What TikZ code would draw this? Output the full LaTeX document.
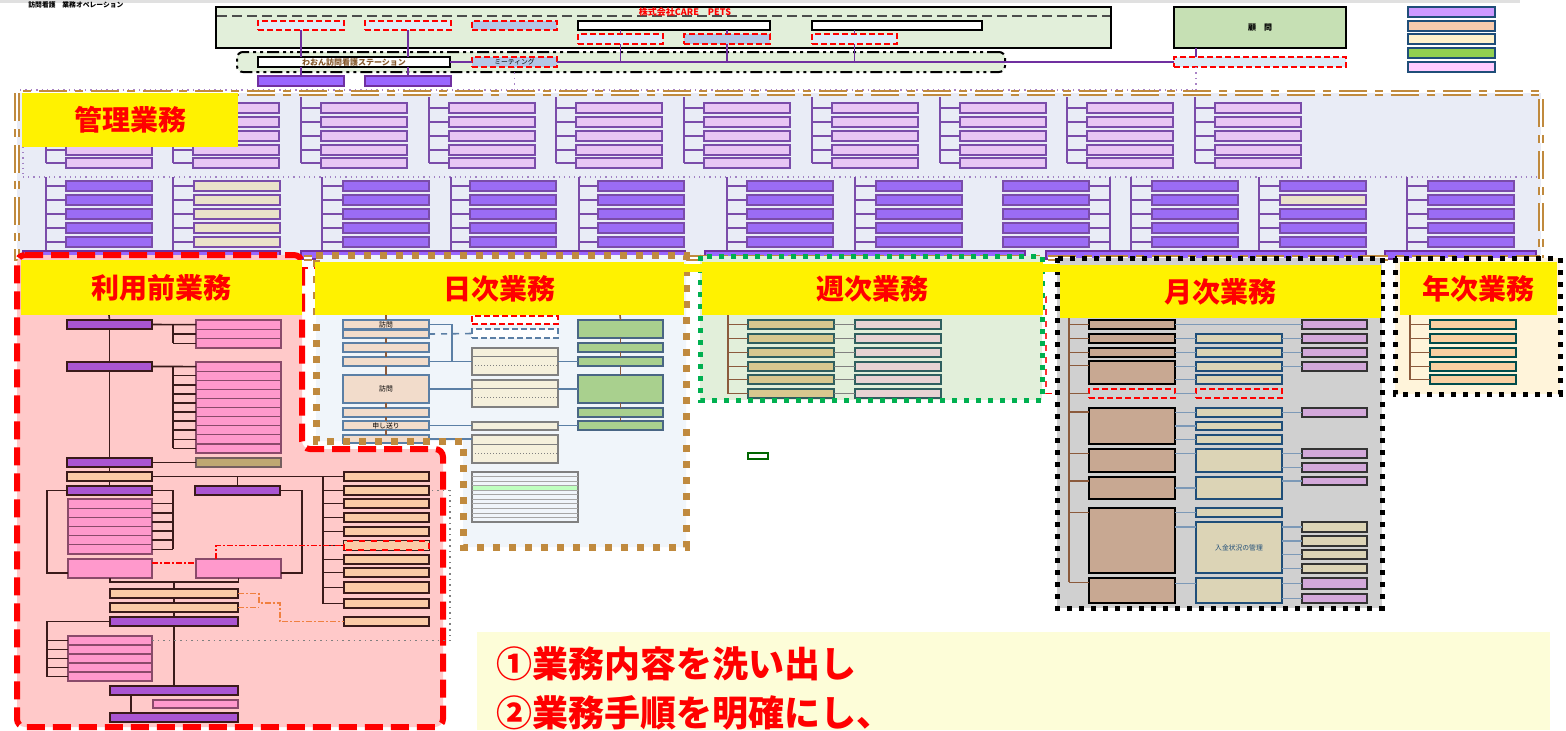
\documentclass[tikz,border=0pt]{standalone}
\usepackage{fontspec}
\newfontfamily\cjk{Noto Sans CJK JP}
\usetikzlibrary{calc}
\definecolor{brn}{HTML}{C08A3E}
\definecolor{kbg}{HTML}{E9ECF6}
\definecolor{upf}{HTML}{E8C6F4}
\definecolor{upl}{HTML}{7A4CAA}
\definecolor{lof}{HTML}{9B6CF5}
\definecolor{bei}{HTML}{EAE2CA}
\definecolor{rbg}{HTML}{FFC9C9}
\definecolor{dbg}{HTML}{F0F5FA}
\definecolor{wbg}{HTML}{E2EFDA}
\definecolor{mbg}{HTML}{D0D0D0}
\definecolor{ybg}{HTML}{FFF4DA}
\definecolor{lbl}{HTML}{DDEBF7}
\definecolor{mbl}{HTML}{B4C7E7}
\definecolor{pur}{HTML}{7030A0}
\definecolor{vio}{HTML}{9966FF}
\definecolor{rpu}{HTML}{AA55D2}
\definecolor{rpk}{HTML}{FF99CC}
\definecolor{pk2}{HTML}{8A4A6A}
\definecolor{rpe}{HTML}{FBCBA6}
\definecolor{khk}{HTML}{BFA872}
\definecolor{dkb}{HTML}{3A1A1A}
\definecolor{bgy}{HTML}{5B7FA5}
\definecolor{dpe}{HTML}{F2DCCB}
\definecolor{dbe}{HTML}{F5F0DC}
\definecolor{dgr}{HTML}{A9D08E}
\definecolor{wkh}{HTML}{D8C88F}
\definecolor{wpk}{HTML}{E8D3D3}
\definecolor{wtl}{HTML}{2F5F5F}
\definecolor{mlf}{HTML}{C8A892}
\definecolor{mmf}{HTML}{DCD4B6}
\definecolor{mrf}{HTML}{D3A8DA}
\definecolor{nav}{HTML}{1F4E79}
\definecolor{yfa}{HTML}{FAD0A2}
\definecolor{gtxt}{HTML}{FDFDD8}
\definecolor{bro}{HTML}{8B5A3C}
\definecolor{kg}{HTML}{C6E0B4}
\definecolor{grd}{HTML}{00B050}
\definecolor{orn}{HTML}{F08040}
\definecolor{lg1}{HTML}{CC99FF}
\definecolor{lg2}{HTML}{F8CBAD}
\definecolor{lg3}{HTML}{FFF2CC}
\definecolor{lg4}{HTML}{92D050}
\definecolor{lg5}{HTML}{FFCCFF}
\newcommand\mytiny{\cjk\fontsize{3.4}{3.6}\selectfont}
\newcommand\rbx[7]{%
  \pgfmathsetmacro\bxw{abs((#4)-(#2))*0.5}%
  \pgfmathsetmacro\bxh{abs((#5)-(#3))*0.5}%
  \node[box base,minimum width=\bxw pt,minimum height=\bxh pt,#6] (#1) at ({((#2)+(#4))/2},{((#3)+(#5))/2}) {#7};%
}
\begin{document}
\begin{tikzpicture}[x=0.5pt,y=-0.5pt,
  box base/.style={inner sep=0pt,outer sep=0pt,font=\mytiny,align=center},
  ubox/.style={draw=upl,line width=0.9pt,fill=upf},
  lbox/.style={draw=upl,line width=0.9pt},
  kline/.style={draw=upl,line width=0.8pt},
  lab/.style={fill=yellow,text=red,font=\cjk\bfseries\fontsize{14}{14}\selectfont},
  rdash/.style={draw=red,line width=0.9pt,dash pattern=on 3pt off 1.5pt},
  blk/.style={draw=black,line width=1.1pt},
  pl/.style={draw=pur,line width=0.8pt},
  pd/.style={draw=pur!60,line width=0.7pt,dotted},
  rp/.style={draw=dkb,line width=0.9pt,fill=rpu},
  rk/.style={draw=pk2,line width=0.6pt,fill=rpk},
  re/.style={draw=dkb,line width=0.9pt,fill=rpe},
  rl/.style={draw=dkb,line width=0.8pt},
  dl/.style={draw=bgy,line width=0.9pt,fill=dpe},
  dm/.style={draw=gray,line width=0.7pt,fill=dbe},
  dg/.style={draw=bgy!80!black,line width=0.9pt,fill=dgr},
  bl/.style={draw=bgy,line width=0.8pt},
  bc/.style={draw=bro,line width=0.8pt},
  mlb/.style={draw=black,line width=1.1pt,fill=mlf},
  mmb/.style={draw=nav,line width=1pt,fill=mmf},
  mrb/.style={draw=black!80,line width=1pt,fill=mrf},
  mc/.style={draw=bgy!80,line width=0.7pt}]
\useasboundingbox (0,0) rectangle (1566,730);
\fill[white] (0,0) rectangle (1566,730);
% ---------- top ----------
\fill[black!12] (0,0) rectangle (1520,3);
\node[anchor=west,inner sep=0pt,font=\cjk\bfseries\fontsize{3.4}{4}\selectfont] (ttl) at (28,5) {訪問看護　業務オペレーション};
\rbx{co}{216}{7}{1111}{48}{blk,fill=wbg}{}
\draw[black!70,line width=1.2pt,dash pattern=on 5pt off 2.5pt] (217,16) -- (1110,16);
\node[inner sep=0pt,font=\cjk\bfseries\fontsize{4.5}{5}\selectfont,text=red] (cot) at (685,12) {株式会社CARE　PETS};
\rbx{c1}{258}{21}{344}{30}{rdash,fill=lbl}{}
\rbx{c2}{365}{21}{451}{30}{rdash,fill=lbl}{}
\rbx{c3}{472}{21}{557}{30}{rdash,fill=mbl}{}
\rbx{c4}{578}{21}{770}{30}{blk,fill=white}{}
\rbx{c5}{578}{34}{663}{44}{rdash,fill=lbl}{}
\rbx{c6}{684}{34}{770}{44}{rdash,fill=mbl}{}
\rbx{c7}{812}{21}{982}{30}{blk,fill=white}{}
\rbx{c8}{812}{34}{897}{44}{rdash,fill=lbl}{}
\rbx{st}{237}{52}{1005}{72}{draw=black,line width=1pt,fill=wbg,dash pattern=on 6pt off 2pt on 1.5pt off 2pt on 1.5pt off 2pt,rounded corners=3pt}{}
\rbx{s1}{258}{57}{450}{67}{blk,fill=white,text=brown!70!black,font=\cjk\bfseries\fontsize{4}{4}\selectfont}{わおん訪問看護ステーション}
\rbx{s2}{472}{57}{557}{67}{rdash,fill=mbl}{ミーティング}
\rbx{p1}{258}{76}{344}{86}{draw=pur,line width=0.9pt,fill=vio}{}
\rbx{p2}{365}{76}{451}{86}{draw=pur,line width=0.9pt,fill=vio}{}
\rbx{k1}{1174}{7}{1346}{48}{blk,fill=kg,font=\cjk\bfseries\fontsize{4}{4}\selectfont}{顧　問}
\rbx{k2}{1174}{57}{1346}{67}{rdash,fill=lbl}{}
\foreach \yy [count=\i] in {7,21,34,48,62}{
  \rbx{lg\i}{1408}{\yy}{1495}{\yy+10}{draw=nav,line width=1.2pt,fill=lg\i}{}
}
\draw[pl] (c1.south) -- (c1.south |- s1.north);
\draw[pl] (c1.south |- s1.south) -- (p1.north);
\draw[pl] (c2.south) -- (c2.south |- s1.north);
\draw[pl] (c2.south |- s1.south) -- (p2.north);
\draw[pl] (s1.east) -- (s2.west);
\draw[pl] (s2.east) -- (k2.west);
\draw[pl] (c4.south -| c5.north) -- (c5.north);
\draw[pl] (c5.south) -- (c5.south |- s2.east);
\draw[pl] (c4.south -| c6.north) -- (c6.north);
\draw[pl] (c6.south) -- (c6.south |- s2.east);
\draw[pl] (c7.south -| c8.north) -- (c8.north);
\draw[pl] (c8.south) -- (c8.south |- s2.east);
\draw[pl] ($(k1.south west)+(22,0)$) -- ($(k2.north west)+(22,0)$);
\draw[pd] (s2.south) -- (s2.south |- 0,90);
\draw[pd] ($(k2.south west)+(22,0)$) -- (1196,90);
\draw[pd] (20,90) -- (1196,90);
% ---------- kanri ----------
\fill[kbg] (17,93) rectangle (1541,258);
\draw[upl!70,dotted,line width=0.6pt] (23,177) -- (1538,177);
\draw[upl!70,dotted,line width=0.6pt] (23,95) -- (23,177);
\foreach \cx [count=\ci] in {46,173,301,429,556,684,812,940,1067,1195}{
  \draw[kline] (\cx,97) -- (\cx,163);
  \foreach \ry [count=\ri] in {103,117,131,145,158}{
    \rbx{u\ci-\ri}{\cx+20}{\ry}{\cx+106}{\ry+10}{ubox}{}
    \draw[kline] (\cx,\ry+5) -- (u\ci-\ri);
  }
}
\foreach \lx/\bs/\fc [count=\ci] in {46/66/lof,173/194/bei,322/343/lof,451/470/lof,579/598/lof,727/747/lof,855/876/lof,1110/1003/lof,1131/1152/lof,1259/1280/lof,1407/1428/lof}{
  \draw[kline] (\lx,177) -- (\lx,251);
  \foreach \ry [count=\ri] in {181,195,209,223,237}{
    \rbx{l\ci-\ri}{\bs}{\ry}{\bs+86}{\ry+10}{lbox,fill=\fc}{}
    \draw[kline] (\lx,\ry+5) -- (l\ci-\ri);
  }
}
\rbx{lx}{1280}{195}{1366}{205}{lbox,fill=bei}{}
\rbx{b1}{23}{251}{280}{259}{draw=pur,line width=0.8pt,fill=vio}{}
\rbx{b2}{301}{251}{685}{259}{draw=pur,line width=0.8pt,fill=vio}{}
\rbx{b3}{705}{251}{1025}{259}{draw=pur,line width=0.8pt,fill=vio}{}
\rbx{b4}{1046}{251}{1366}{259}{draw=pur,line width=0.8pt,fill=vio}{}
\rbx{b5}{1385}{251}{1536}{259}{draw=pur,line width=0.8pt,fill=vio}{}
\draw[brn,line width=0.8pt,double=white,double distance=1.2pt,dash pattern=on 14pt off 4pt on 4pt off 4pt] (17,93) rectangle (1541,258);
% ---------- riyoumae ----------
\draw[red,line width=3pt,dash pattern=on 9pt off 4pt,fill=rbg,rounded corners=4pt] (17,255) -- (302,255) -- (302,449) -- (443,449) -- (443,727) -- (17,727) -- cycle;
\rbx{pa1}{67}{320}{152}{329}{rp}{}
\rbx{pa2}{67}{362}{152}{371}{rp}{}
\rbx{pa3}{67}{458}{152}{467}{rp}{}
\rbx{pk1}{196}{458}{281}{467}{draw=dkb!70,line width=0.8pt,fill=khk}{}
\rbx{pe1}{67}{472}{152}{481}{re}{}
\rbx{pa4}{67}{486}{152}{495}{rp}{}
\rbx{pa5}{195}{486}{280}{495}{rp}{}
\rbx{pe2}{110}{589}{238}{598}{re}{}
\rbx{pe3}{110}{603}{238}{612}{re}{}
\rbx{pa6}{110}{617}{238}{626}{rp}{}
\rbx{pa7}{110}{686}{238}{695}{rp}{}
\rbx{pp1}{153}{700}{238}{708}{rk}{}
\rbx{pa8}{110}{713}{238}{722}{rp}{}
\foreach \i in {0,1,2}{\rbx{qa\i}{196}{320+\i*9.33}{281}{329.33+\i*9.33}{rk}{}}
\foreach \i in {0,...,9}{\rbx{qb\i}{196}{362+\i*9.1}{281}{371.1+\i*9.1}{rk}{}}
\foreach \i in {0,...,5}{\rbx{qc\i}{68}{499+\i*9.17}{152}{508.17+\i*9.17}{rk}{}}
\foreach \i in {0,...,4}{\rbx{qd\i}{68}{636+\i*9}{152}{645+\i*9}{rk}{}}
\rbx{pp2}{68}{559}{152}{578}{rk}{}
\rbx{pp3}{196}{559}{281}{578}{rk}{}
\foreach \yy/\hh [count=\i] in {472/9,486/9,499/9,513/9,527/9,541/9,555/9,568/9,582/11,599/9,617/9}{
  \rbx{rc\i}{344}{\yy}{429}{\yy+\hh}{re}{}
}
\draw[red,line width=0.9pt,dashed,fill=rpe] (rc6.south west) rectangle (rc6.north east);
\draw[rl] (109,315) -- (pa1.north);
\draw[rl] (pa1.south) -- (pa2.north);
\draw[rl] (pa2.south) -- (pa3.north);
\draw[rl] (pa3.south) -- (pe1.north);
\draw[rl] (pe1.south) -- (pa4.north);
\draw[rl] (pa1.east) -- (qa0.west);
\draw[rl] (173,0 |- pa1.east) -- (173,0 |- qa2.west);
\foreach \i in {1,2}{\draw[rl] (173,0 |- qa\i.west) -- (qa\i.west);}
\draw[rl] (pa2.east) -- (qb0.west);
\draw[rl] (173,0 |- pa2.east) -- (173,0 |- qb9.west);
\foreach \i in {1,...,9}{\draw[rl] (173,0 |- qb\i.west) -- (qb\i.west);}
\draw[rl] (pa3.east) -- (pk1.west);
\draw[rl] (pe1.east) -- (rc1.west);
\draw[rl] (323,0 |- rc1.west) -- (323,0 |- rc10.west);
\foreach \i in {2,...,10}{\draw[rl] (323,0 |- rc\i.west) -- (rc\i.west);}
\draw[rl] (pa5.north |- pe1.east) -- (pa5.north);
\draw[rl] (pa4.west) -- ++(-20,0) |- ($(pp2.west)+(0,4.5)$);
\draw[rl] (pa4.east) -- (173,0 |- pa4.east) -- (173,0 |- qc5.east);
\foreach \i in {0,...,5}{\draw[rl] (qc\i.east) -- (173,0 |- qc\i.east);}
\draw[rl] (pa5.east) -- (302,0 |- pa5.east) |- ($(pp3.east)+(0,4.5)$);
\draw[red,line width=0.8pt,dash pattern=on 3pt off 1pt on 1pt off 1pt] ($(pp2.east)+(0,-5.5)$) -- ($(pp3.west)+(0,-5.5)$);
\draw[red,line width=0.8pt,dash pattern=on 3pt off 1pt on 1pt off 1pt] (216,0 |- pp3.north) |- (rc6.west);
\draw[rl] (pp2.south) -- ++(0,4) -| (pp3.south);
\draw[rl] (pe2.north |- 0,582) -- (pe2.north);
\draw[rl] (pe2.south) -- (pe3.north);
\draw[rl] (pe3.south) -- (pa6.north);
\draw[rl] (pa6.south) -- (pa7.north);
\draw[rl] (131,0 |- pa7.south) -- (131,0 |- pa8.north);
\draw[rl] (pa6.west) -- (47,0 |- pa6.west) -- (47,0 |- qd4.west);
\foreach \i in {0,...,4}{\draw[rl] (47,0 |- qd\i.west) -- (qd\i.west);}
\draw[orn,line width=0.8pt,dash pattern=on 3pt off 1pt on 1pt off 1pt] (pe2.east) -- (259,0 |- pe2.east) -- (259,603) -- (280,603) -- (280,0 |- rc11.west) -- (rc11.west);
\draw[orn,line width=0.8pt,dash pattern=on 3pt off 1pt on 1pt off 1pt] (pe3.east) -- (259,0 |- pe3.east);
\draw[gray,dotted,line width=0.8pt] (qd0.east) -| (450,0 |- rc2.east) -- (rc2.east);
% ---------- nichiji ----------
\fill[dbg] (316,255) -- (686,255) -- (686,547) -- (463,547) -- (463,441) -- (316,441) -- cycle;
\rbx{d1}{343}{320}{429}{329}{dl}{訪問}
\rbx{d2}{343}{330}{429}{338}{dl}{}
\rbx{d3}{343}{343}{429}{352}{dl}{}
\rbx{d4}{343}{357}{429}{366}{dl}{}
\rbx{d5}{343}{375}{429}{403}{dl}{訪問}
\rbx{d6}{343}{408}{429}{417}{dl}{}
\rbx{d7}{343}{421}{429}{430}{dl}{申し送り}
\rbx{d8}{343}{435}{429}{443}{dl}{}
\rbx{m1}{472}{316}{558}{324}{rdash,fill=white}{}
\rbx{m2}{472}{329}{558}{338}{draw=bgy,line width=0.9pt,dash pattern=on 3pt off 1.5pt,fill=white}{}
\rbx{m3}{472}{348}{558}{375}{dm}{}
\rbx{m4}{472}{380}{558}{407}{dm}{}
\rbx{m5}{472}{422}{558}{430}{dm}{}
\rbx{m6}{472}{435}{558}{463}{dm}{}
\foreach \n in {m3,m4,m6}{
  \draw[gray,line width=0.5pt] ($(\n.north west)!0.33!(\n.south west)$) -- ($(\n.north east)!0.33!(\n.south east)$);
  \draw[gray,line width=0.5pt,densely dotted] ($(\n.north west)!0.66!(\n.south west)$) -- ($(\n.north east)!0.66!(\n.south east)$);
}
\rbx{g1}{578}{320}{663}{338}{dg}{}
\rbx{g2}{578}{343}{663}{352}{dg}{}
\rbx{g3}{578}{357}{663}{366}{dg}{}
\rbx{g4}{578}{375}{663}{403}{dg}{}
\rbx{g5}{578}{408}{663}{417}{dg}{}
\rbx{g6}{578}{421}{663}{430}{dg}{}
\fill[green!25] (472.5,485.6) rectangle (577.5,490.2);
\rbx{ml}{472}{472}{578}{522}{draw=gray,line width=0.6pt}{}
\foreach \i in {1,...,10}{\draw[gray!70,line width=0.4pt] (ml.north west |- 0,472+\i*4.55) -- (ml.north east |- 0,472+\i*4.55);}
\draw[bc] (386,315) -- (d1.north);
\draw[bc] (d2.south) -- (d3.north);
\draw[bc] (d3.south) -- (d4.north);
\draw[bc] (d4.south) -- (d5.north);
\draw[bc] (d5.south) -- (d6.north);
\draw[bc] (d6.south) -- (d7.north);
\draw[bc] (d7.south) -- (d8.north);
\draw[bc] (620,315) -- (g1.north);
\draw[bc] (g1.south) -- (g2.north);
\draw[bc] (g2.south) -- (g3.north);
\draw[bc] (g3.south) -- (g4.north);
\draw[bc] (g4.south) -- (g5.north);
\draw[bc] (g5.south) -- (g6.north);
\draw[bl,dashed] (d2.east) -- (m2.west);
\draw[bl] (d1.east) -- (452,0 |- d1.east) -- (452,0 |- m3.west);
\draw[bl] (d4.east) -- (m3.west);
\draw[bl] (m3.east) -- (g3.west);
\draw[bl] (d5.east) -- (m4.west |- d5.east);
\draw[bl] (m4.east |- g4.west) -- (g4.west);
\draw[bl] (d7.east) -- (m5.west |- d7.east);
\draw[bl] (m5.east |- g6.west) -- (g6.west);
\draw[bl] (d8.east) -- (m6.west |- d8.east);
\draw[brn,line width=3.5pt,dash pattern=on 3.5pt off 4.5pt] (316,255) -- (686,255) -- (686,547) -- (463,547) -- (463,441) -- (316,441) -- cycle;
% ---------- shuuji ----------
\fill[wbg] (700,256) rectangle (1042,400);
\draw[bc] (728,315) -- (728,393.5);
\foreach \yy [count=\i] in {320,334,348,362,375,389}{
  \rbx{wl\i}{748}{\yy}{834}{\yy+9}{draw=wtl,line width=0.9pt,fill=wkh}{}
  \rbx{wr\i}{855}{\yy}{941}{\yy+9}{draw=wtl,line width=0.9pt,fill=wpk}{}
  \draw[gray,line width=0.6pt] (wl\i.east) -- (wr\i.west);
  \draw[bc] (728,0 |- wl\i.west) -- (wl\i.west);
}
\draw[grd,line width=2.5pt,dash pattern=on 2.5pt off 3.5pt] (700,256) rectangle (1042,400);
\rbx{sg}{748}{453}{768}{459}{draw=green!40!black,line width=0.8pt,fill=white}{}
\draw[red!80,line width=0.7pt,dashed] (962,297) -- (1046,297) -- (1046,394);
% ---------- getsuji ----------
\fill[mbg] (1057,258) rectangle (1382,608);
\rbx{L1}{1089}{320}{1175}{329}{mlb}{}
\rbx{L2}{1089}{334}{1175}{343}{mlb}{}
\rbx{L3}{1089}{348}{1175}{357}{mlb}{}
\rbx{L4}{1089}{361}{1175}{384}{mlb}{}
\rbx{L5}{1089}{389}{1175}{398}{draw=red,line width=1pt,dash pattern=on 3pt off 1.5pt,fill=mbg}{}
\rbx{L6}{1089}{408}{1175}{444}{mlb}{}
\rbx{L7}{1089}{449}{1175}{472}{mlb}{}
\rbx{L8}{1089}{477}{1175}{499}{mlb}{}
\rbx{L9}{1089}{508}{1175}{573}{mlb}{}
\rbx{L10}{1089}{578}{1175}{603}{mlb}{}
\rbx{M1}{1196}{334}{1282}{343}{mmb}{}
\rbx{M2}{1196}{348}{1282}{357}{mmb}{}
\rbx{M3}{1196}{362}{1282}{371}{mmb}{}
\rbx{M4}{1196}{375}{1282}{384}{mmb}{}
\rbx{M5}{1196}{389}{1282}{398}{draw=red,line width=1pt,dash pattern=on 3pt off 1.5pt,fill=mbg}{}
\rbx{M6}{1196}{408}{1282}{417}{mmb}{}
\rbx{M7}{1196}{422}{1282}{430}{mmb}{}
\rbx{M8}{1196}{435}{1282}{444}{mmb}{}
\rbx{M9}{1196}{449}{1282}{472}{mmb}{}
\rbx{M10}{1196}{477}{1282}{499}{mmb}{}
\rbx{M11}{1196}{508}{1282}{517}{mmb}{}
\rbx{M12}{1196}{522}{1282}{573}{mmb,text=nav}{入金状況の管理}
\rbx{M13}{1196}{578}{1282}{603}{mmb}{}
\rbx{R1}{1302}{320}{1367}{329}{mrb}{}
\rbx{R2}{1302}{334}{1367}{343}{mrb}{}
\rbx{R3}{1302}{348}{1367}{357}{mrb}{}
\rbx{R4}{1302}{362}{1367}{371}{mrb}{}
\rbx{R5}{1302}{408}{1367}{417}{mrb}{}
\rbx{R6}{1302}{449}{1367}{458}{mrb}{}
\rbx{R7}{1302}{463}{1367}{472}{mrb}{}
\rbx{R8}{1302}{477}{1367}{485}{mrb}{}
\rbx{R9}{1302}{522}{1367}{532}{mmb,draw=black!80}{}
\rbx{R10}{1302}{536}{1367}{546}{mmb,draw=black!80}{}
\rbx{R11}{1302}{550}{1367}{559}{mmb,draw=black!80}{}
\rbx{R12}{1302}{564}{1367}{573}{mmb,draw=black!80}{}
\rbx{R13}{1302}{578}{1367}{589}{mrb}{}
\rbx{R14}{1302}{594}{1367}{603}{mrb}{}
\draw[bc] (1069,318) -- (1069,582);
\foreach \n/\dy in {L1/0,L2/0,L3/0,L4/-7,L5/0,L6/-14,L7/-7,L8/-7,L9/-28,L10/-8}{
  \draw[bc] ($(1069,0 |- \n.west)+(0,\dy)$) -- ($(\n.west)+(0,\dy)$);
}
\draw[red,line width=0.7pt,dashed] (1046,0 |- L5.west) -- (1057,0 |- L5.west);
\draw[mc] (L1.east) -- (R1.west);
\draw[mc] (L2.east) -- (M1.west);
\draw[mc] (M1.east) -- (R2.west);
\draw[mc] (L3.east) -- (M2.west);
\draw[mc] (M2.east) -- (R3.west);
\draw[mc] (L4.east |- M3.west) -- (M3.west);
\draw[mc] (L4.east |- M4.west) -- (M4.west);
\draw[mc] (M3.east) -- (R4.west);
\draw[mc] (L5.east) -- (M5.west);
\draw[mc] (L6.east |- M6.west) -- (M6.west);
\draw[mc] (L6.east |- M7.west) -- (M7.west);
\draw[mc] (L6.east |- M8.west) -- (M8.west);
\draw[mc] (M6.east) -- (R5.west);
\draw[mc] (L7.east |- R6.west) -- (M9.west |- R6.west);
\draw[mc] (M9.east |- R6.west) -- (R6.west);
\draw[mc] (M9.east |- R7.west) -- (R7.west);
\draw[mc] (L8.east) -- (M10.west);
\draw[mc] (M10.east |- R8.west) -- (R8.west);
\draw[mc] (L9.east |- M11.west) -- (M11.west);
\draw[mc] (L9.east |- 0,527) -- (M12.west |- 0,527);
\foreach \n in {R9,R10,R11,R12}{\draw[mc] (M12.east |- \n.west) -- (\n.west);}
\draw[mc] (L10.east |- R13.west) -- (M13.west |- R13.west);
\draw[mc] (M13.east |- R13.west) -- (R13.west);
\draw[mc] (M13.east |- R14.west) -- (R14.west);
\draw[black,line width=2.5pt,dash pattern=on 2.5pt off 3.5pt] (1057,258) rectangle (1382,608);
% ---------- nenji ----------
\fill[ybg] (1395,258) rectangle (1560,394);
\draw[bc] (1410,315) -- (1410,379.5);
\foreach \yy [count=\i] in {320,334,348,362,375}{
  \rbx{y\i}{1430}{\yy}{1516}{\yy+9}{draw=teal!60!black,line width=0.9pt,fill=yfa}{}
  \draw[bc] (1410,0 |- y\i.west) -- (y\i.west);
}
\draw[black,line width=2.5pt,dash pattern=on 2.5pt off 3.5pt] (1395,258) rectangle (1560,394);
% ---------- fragments ----------
\fill[yellow] (683,264) rectangle (702,272);
\fill[yellow] (1041,264) rectangle (1060,272);
\draw[red,line width=0.7pt,dashed] (302,268) -- (316,268);
% ---------- labels ----------
\rbx{kl}{22}{93}{238}{147}{lab}{管理業務}
\rbx{rl0}{21}{260}{302}{315}{lab}{利用前業務}
\rbx{nl}{315}{262}{684}{315}{lab}{日次業務}
\rbx{wl}{702}{262}{1043}{315}{lab}{週次業務}
\rbx{gl}{1060}{265}{1381}{318}{lab}{月次業務}
\rbx{yl}{1400}{262}{1557}{315}{lab}{年次業務}
% ---------- bottom text ----------
\fill[gtxt] (477,632) rectangle (1550,730);
\node[anchor=west,inner sep=0pt,text=red,font=\cjk\bfseries\fontsize{18}{18}\selectfont] (t1) at (496,664) {①業務内容を洗い出し};
\node[anchor=west,inner sep=0pt,text=red,font=\cjk\bfseries\fontsize{18}{18}\selectfont] (t2) at (496,713) {②業務手順を明確にし、};
\end{tikzpicture}
\end{document}
